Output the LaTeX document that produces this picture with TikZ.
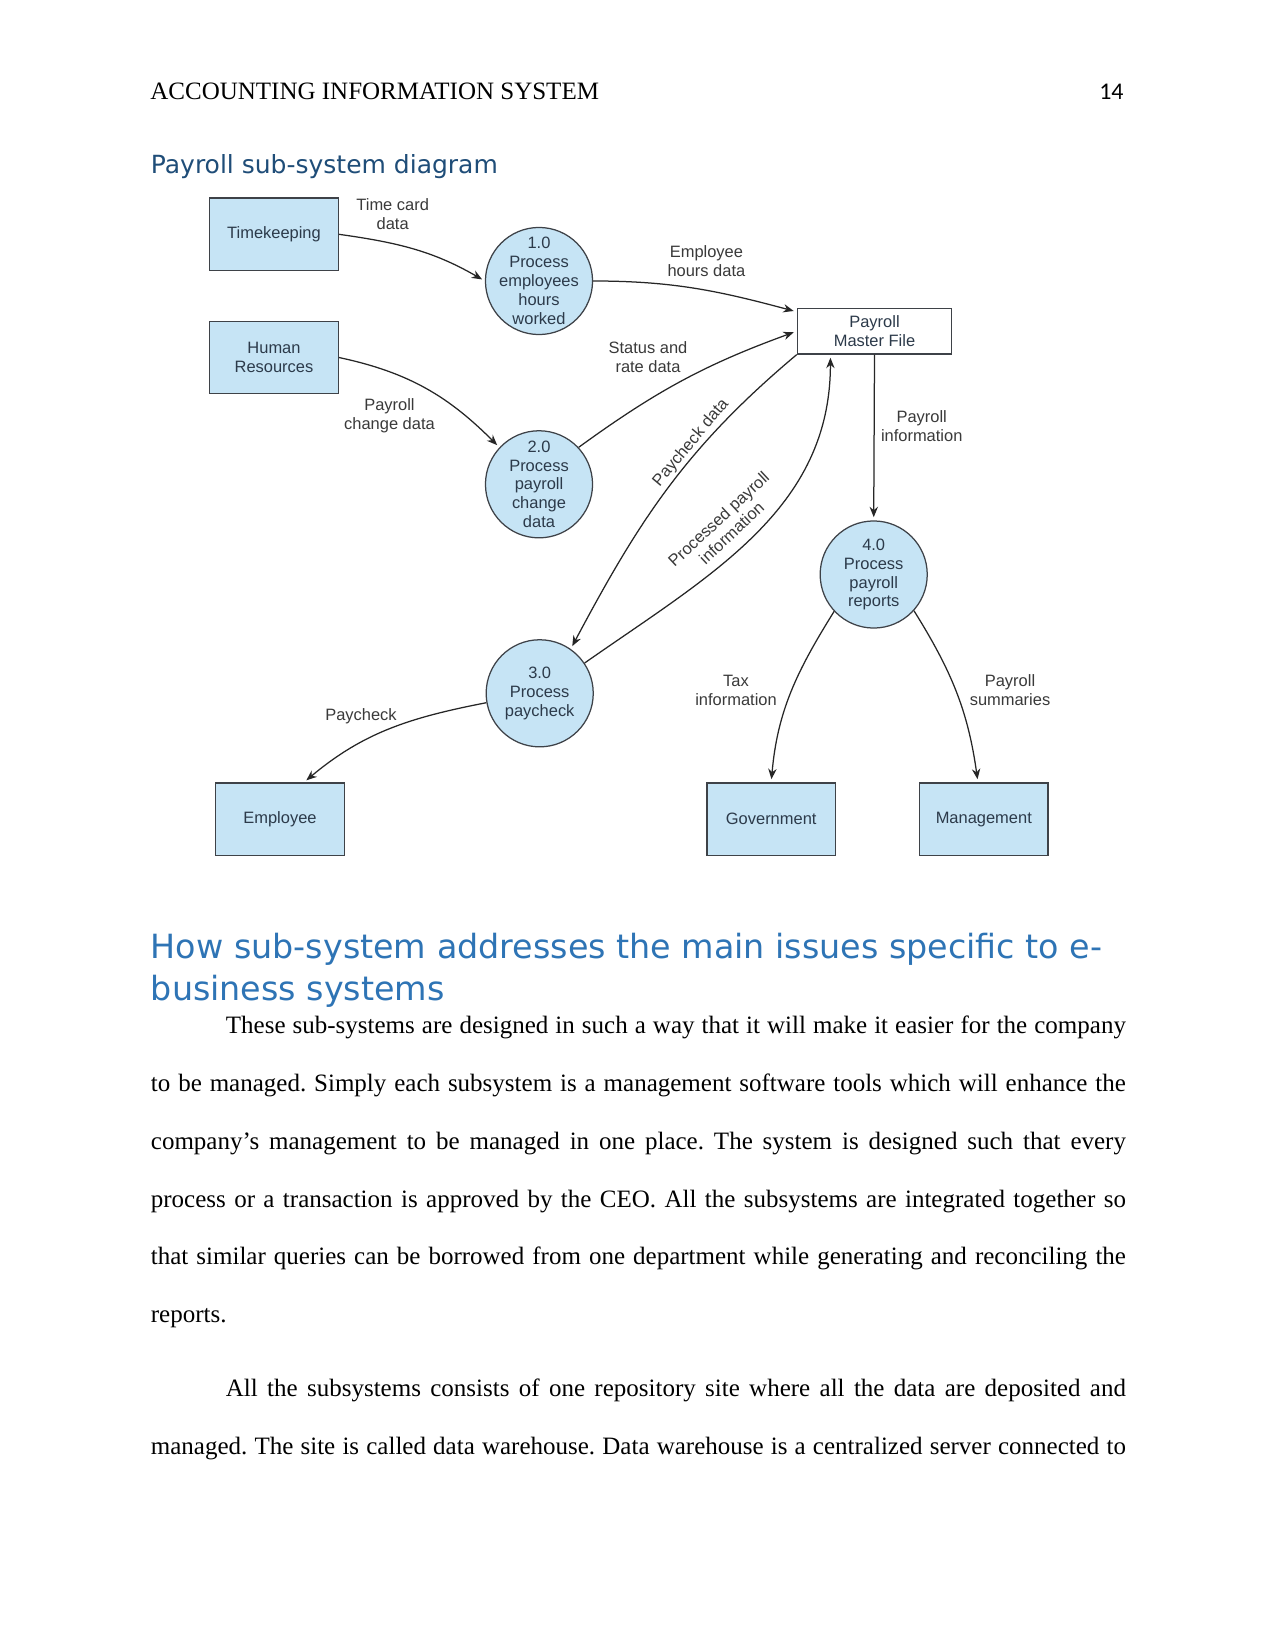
\documentclass[tikz,border=0pt]{standalone}
\usepackage{fontspec}
\setmainfont{Liberation Serif}
\newfontfamily\diafont{Liberation Sans}
\newfontfamily\headfont{DejaVu Sans}
\newfontfamily\numfont{Carlito}
\usetikzlibrary{arrows.meta}

\definecolor{boxfill}{RGB}{198,228,245}
\definecolor{boxline}{RGB}{62,66,72}
\definecolor{boxtext}{RGB}{44,58,74}
\definecolor{lbltext}{RGB}{58,58,58}
\definecolor{headblue}{RGB}{31,77,120}
\definecolor{subblue}{RGB}{46,116,181}

\newcommand{\diasize}{\diafont\fontsize{7.9}{9.1}\selectfont}

\tikzset{
  entity/.style={draw=boxline, fill=boxfill, line width=0.6pt,
    minimum width=61.7pt, minimum height=34.8pt, inner sep=0pt,
    align=center, text=boxtext, font=\diasize},
  proc/.style={circle, draw=boxline, fill=boxfill, line width=0.6pt,
    minimum size=51.4pt, inner sep=0pt, align=center, text=boxtext,
    font=\diasize},
  store/.style={draw=boxline, fill=white, line width=0.6pt,
    minimum width=74.1pt, minimum height=21.9pt, inner sep=0pt,
    align=center, text=boxtext, font=\diasize},
  flowlbl/.style={align=center, inner sep=0pt, text=lbltext, font=\diasize},
  flow/.style={->, line width=0.6pt, draw=black!85, shorten >=1.5pt},
  bodytext/.style={anchor=base west, inner sep=0pt, text width=468pt,
    align=justify, font=\fontsize{12}{27.75}\selectfont}
}

\begin{document}
\begin{tikzpicture}[x=0.48pt, y=0.48pt, >={Stealth[length=5pt,width=4pt]}]
  \useasboundingbox (0,0) rectangle (1275,-1651);
  \fill[white] (0,0) rectangle (1275,-1651);

  % Page header
  \node[anchor=base west, inner sep=0pt, font=\fontsize{12}{14}\selectfont] (runhead) at (150,-99.7) {ACCOUNTING INFORMATION SYSTEM};
  \node[anchor=base east, inner sep=0pt, font=\numfont\fontsize{11.5}{13}\selectfont] (pagenum) at (1124,-99.7) {14};
  \node[anchor=base west, inner sep=0pt, text=headblue, font=\headfont\fontsize{12}{14}\selectfont] (title) at (150.5,-173.7) {Payroll sub-system diagram};

  % External entities
  \node[entity] (tk) at (274,-234.3) {Timekeeping};
  \node[entity] (hr) at (274,-357.5) {Human\\Resources};
  \node[entity] (emp) at (280,-819.2) {Employee};
  \node[entity] (gov) at (771.2,-819.2) {Government};
  \node[entity] (mgmt) at (983.8,-819.2) {Management};

  % Processes
  \node[proc, inner sep=-4.8pt] (p1) at (539,-281) {1.0\\Process\\employees\\hours\\worked};
  \node[proc] (p2) at (539,-484.3) {2.0\\Process\\payroll\\change\\data};
  \node[proc] (p3) at (539.7,-693.3) {3.0\\Process\\paycheck};
  \node[proc] (p4) at (873.7,-574.5) {4.0\\Process\\payroll\\reports};

  % Data store
  \node[store] (pmf) at (874.5,-331.2) {Payroll\\Master File};

  % Data flows
  \draw[flow] (tk.east) to[out=-8,in=150] (p1.west);
  \draw[flow] (p1.east) to[out=0,in=165] (pmf.166);
  \draw[flow] (hr.east) to[out=-12,in=135] (p2.137);
  \draw[flow] (p2.43) to[out=36,in=200] (pmf.west);
  \draw[flow] (pmf.south west) to[out=220,in=62] (p3.55);
  \draw[flow] (p3.34) to[out=35,in=-90] (pmf.-152);
  \draw[flow] (pmf.south) -- (p4.north);
  \draw[flow] (p4.223) to[out=-122,in=85] (gov.north);
  \draw[flow] (p4.-42) to[out=-58,in=98] (mgmt.99);
  \draw[flow] (p3.190) to[out=191,in=40] (emp.57);

  % Flow labels
  \node[flowlbl] (l-tc) at (392.7,-213.7) {Time card\\data};
  \node[flowlbl] (l-eh) at (706.4,-261) {Employee\\hours data};
  \node[flowlbl] (l-sr) at (648,-357) {Status and\\rate data};
  \node[flowlbl] (l-pc) at (389.5,-415.9) {Payroll\\change data};
  \node[flowlbl] (l-pi) at (921.7,-426.5) {Payroll\\information};
  \node[flowlbl, rotate=50] (l-pd) at (691,-443) {Paycheck data};
  \node[flowlbl, rotate=43] (l-pp) at (725,-526) {Processed payroll\\information};
  \node[flowlbl] (l-ti) at (736,-690) {Tax\\information};
  \node[flowlbl] (l-ps) at (1010,-690) {Payroll\\summaries};
  \node[flowlbl] (l-ck) at (361,-716) {Paycheck};

  % Section heading and body text
  \node[anchor=base west, inner sep=0pt, text=subblue, font=\headfont\fontsize{16}{20.3}\selectfont] (sect1) at (150.5,-958) {How sub-system addresses the main issues specific to e-};
  \node[anchor=base west, inner sep=0pt, text=subblue, font=\headfont\fontsize{16}{20.3}\selectfont] (sect2) at (150.5,-1000.3) {business systems};

  \node[bodytext] (para1) at (150.5,-1033.7) {\frenchspacing\hyphenpenalty=10000
    \hspace*{36pt}These sub-systems are designed in such a way that it will make it easier for the company\linebreak
    to be managed. Simply each subsystem is a management software tools which will enhance the\linebreak
    company’s management to be managed in one place. The system is designed such that every\linebreak
    process or a transaction is approved by the CEO. All the subsystems are integrated together so\linebreak
    that similar queries can be borrowed from one department while generating and reconciling the\linebreak
    reports.};
  \node[bodytext] (para2) at (150.5,-1396.3) {\frenchspacing\hyphenpenalty=10000
    \hspace*{36pt}All the subsystems consists of one repository site where all the data are deposited and\linebreak
    managed. The site is called data warehouse. Data warehouse is a centralized server connected to{\parfillskip=0pt\par}};
\end{tikzpicture}
\end{document}
